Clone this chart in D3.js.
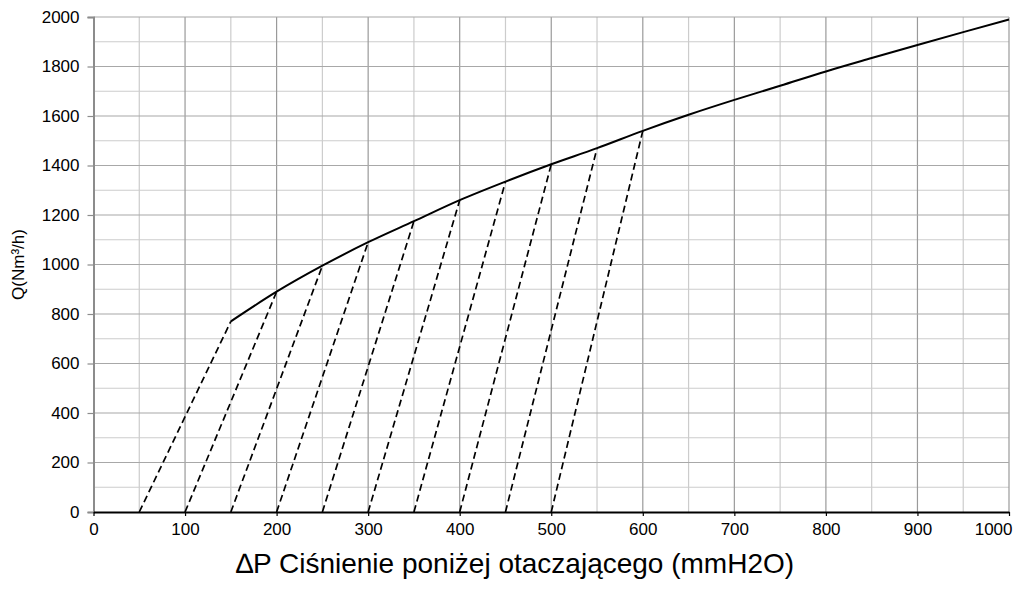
<!DOCTYPE html>
<html lang="pl">
<head>
    <meta charset="UTF-8">
    <title>Q vs dP</title>
    <script src="https://d3js.org/d3.v7.min.js"></script>
    <style>
        body { margin: 0; padding: 0; background: #fff; }
        svg { display: block; font-family: "Liberation Sans", Arial, sans-serif; }
    </style>
</head>
<body>
<svg id="chart" width="1015" height="589"></svg>
<script>
    // Main curve (dP mmH2O -> Q Nm3/h)
    var curveDp = [150, 200, 250, 300, 350, 400, 450, 500, 550, 600, 650, 700, 750, 800, 850, 900, 950, 1000];
    var curveQ  = [770, 890, 995, 1090, 1175, 1260, 1335, 1405, 1470, 1540, 1605, 1665, 1722, 1780, 1834, 1887, 1939, 1990];

    // Dashed lines: start on the x axis, end on the curve
    var dashStart = [50, 100, 150, 200, 250, 300, 350, 400, 450, 500];
    var dashEnd   = [150, 200, 250, 300, 350, 400, 450, 500, 550, 600];
    var dashEndQ  = [770, 890, 995, 1090, 1175, 1260, 1335, 1405, 1470, 1540];

    var xTicks = [0, 100, 200, 300, 400, 500, 600, 700, 800, 900, 1000];
    var yTicks = [0, 200, 400, 600, 800, 1000, 1200, 1400, 1600, 1800, 2000];

    var svg = d3.select("#chart");

    var x = d3.scaleLinear().domain([0, 1000]).range([93.5, 1009]);
    var y = d3.scaleLinear().domain([0, 2000]).range([512, 17]);

    // grid: minor then major
    var grid = svg.append("g");
    grid.selectAll(".vminor")
        .data(d3.range(50, 1000, 100))
        .enter().append("line")
        .attr("x1", d => x(d)).attr("x2", d => x(d))
        .attr("y1", y(0)).attr("y2", y(2000))
        .attr("stroke", "#cccccc").attr("stroke-width", 1.2);
    grid.selectAll(".hminor")
        .data(d3.range(100, 2000, 200))
        .enter().append("line")
        .attr("x1", x(0)).attr("x2", x(1000))
        .attr("y1", d => y(d)).attr("y2", d => y(d))
        .attr("stroke", "#cccccc").attr("stroke-width", 1.2);
    grid.selectAll(".vmajor")
        .data(xTicks.slice(1))
        .enter().append("line")
        .attr("x1", d => x(d)).attr("x2", d => x(d))
        .attr("y1", y(0)).attr("y2", y(2000))
        .attr("stroke", "#9a9a9a").attr("stroke-width", 1.2);
    grid.selectAll(".hmajor")
        .data(yTicks.slice(1))
        .enter().append("line")
        .attr("x1", x(0)).attr("x2", x(1000))
        .attr("y1", d => y(d)).attr("y2", d => y(d))
        .attr("stroke", "#a8a8a8").attr("stroke-width", 1.2);

    // y axis
    var yAxis = svg.append("g")
        .attr("transform", "translate(" + x(0) + ",0)")
        .call(d3.axisLeft(y).tickValues(yTicks).tickFormat(d3.format("d")).tickSize(6).tickPadding(8));
    yAxis.attr("font-size", null).attr("font-family", null);
    yAxis.select(".domain").attr("stroke", "#8c8c8c").attr("stroke-width", 2);
    yAxis.selectAll(".tick line").attr("stroke", "#8c8c8c").attr("stroke-width", 1.2);
    yAxis.selectAll(".tick text").style("font-size", "17px").attr("fill", "#000");

    // x axis
    var xAxis = svg.append("g")
        .attr("transform", "translate(0," + y(0) + ")")
        .call(d3.axisBottom(x).tickValues(xTicks).tickFormat(d3.format("d"))
            .tickSize(4).tickPadding(7).tickSizeOuter(0));
    xAxis.attr("font-size", null).attr("font-family", null);
    xAxis.select(".domain").attr("stroke", "#000").attr("stroke-width", 2);
    xAxis.selectAll(".tick line").attr("stroke", "#000").attr("stroke-width", 1.2);
    xAxis.selectAll(".tick text").style("font-size", "17px").attr("fill", "#000");
    // last label pulled in so it stays inside the picture
    xAxis.selectAll(".tick text").filter(d => d === 1000)
        .attr("text-anchor", "end").attr("x", 3);

    // dashed lines
    svg.append("g").selectAll("line")
        .data(dashStart)
        .enter().append("line")
        .attr("x1", d => x(d)).attr("y1", y(0))
        .attr("x2", (d, i) => x(dashEnd[i])).attr("y2", (d, i) => y(dashEndQ[i]))
        .attr("stroke", "#000").attr("stroke-width", 1.7)
        .attr("stroke-dasharray", "7,4");

    // main curve
    var line = d3.line()
        .x(d => x(d[0])).y(d => y(d[1]))
        .curve(d3.curveMonotoneX);
    svg.append("path")
        .datum(curveDp.map((d, i) => [d, curveQ[i]]))
        .attr("d", line)
        .attr("fill", "none")
        .attr("stroke", "#000")
        .attr("stroke-width", 2);

    // titles
    svg.append("text")
        .attr("transform", "translate(24," + y(1000) + ") rotate(-90)")
        .attr("text-anchor", "middle")
        .style("font-size", "17px")
        .text("Q(Nm³/h)");

    svg.append("text")
        .attr("x", 515).attr("y", 573)
        .attr("text-anchor", "middle")
        .style("font-size", "28px")
        .text("∆P Ciśnienie poniżej otaczającego (mmH2O)");
</script>
</body>
</html>
